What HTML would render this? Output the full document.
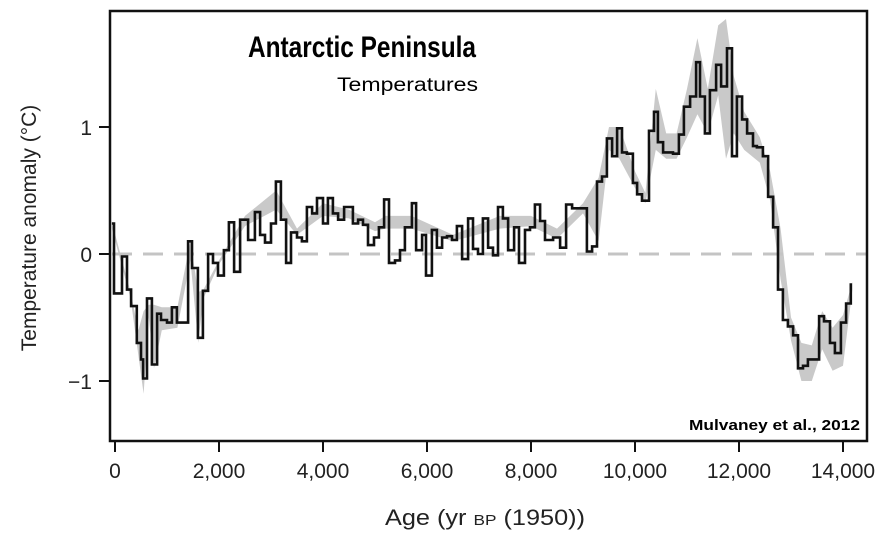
<!DOCTYPE html>
<html><head><meta charset="utf-8"><style>
html,body{margin:0;padding:0;background:#fff;}
svg{display:block;font-family:"Liberation Sans",Arial,sans-serif;}
</style></head><body>
<svg id="chart" width="888" height="542" viewBox="0 0 888 542">
<g id="band"></g>
<line x1="112" y1="254" x2="866" y2="254" stroke="#c4c4c4" stroke-width="3" stroke-dasharray="20,11"/>
<g id="series"></g>
<rect x="110" y="11" width="757" height="430" fill="none" stroke="#111" stroke-width="2.5"/>
<g id="xticks"></g>
<g id="yticks"></g>
<text x="248" y="57" font-size="30" font-weight="bold" fill="#000" textLength="228" lengthAdjust="spacingAndGlyphs">Antarctic Peninsula</text>
<text x="337" y="91" font-size="19" fill="#000" textLength="141" lengthAdjust="spacingAndGlyphs">Temperatures</text>
<text x="689" y="430" font-size="15" font-weight="bold" fill="#000" textLength="171" lengthAdjust="spacingAndGlyphs">Mulvaney et al., 2012</text>
<text transform="translate(36,228) rotate(-90)" text-anchor="middle" font-size="21" fill="#222">Temperature anomaly (°C)</text>
<text x="385" y="525" font-size="22" fill="#222" textLength="200" lengthAdjust="spacingAndGlyphs">Age (yr <tspan font-size="15">BP</tspan> (1950))</text>
</svg>
<script>
const stepAges=[-60,-20,135,230,310,420,500,540,615,710,810,885,1000,1095,1190,1405,1480,1595,1690,1790,1885,1980,2095,2190,2290,2405,2560,2690,2790,2885,3000,3095,3190,3290,3385,3500,3595,3690,3790,3885,4000,4095,4190,4290,4405,4575,4675,4770,4865,4980,5075,5175,5270,5385,5480,5575,5710,5790,5905,5980,6095,6190,6290,6385,6480,6575,6675,6790,6885,6980,7075,7175,7270,7365,7460,7560,7675,7770,7885,7980,8075,8175,8270,8425,8560,8675,8790,9075,9175,9270,9365,9460,9560,9655,9750,9845,9960,10040,10135,10270,10365,10440,10540,10635,10730,10845,10940,11060,11175,11250,11345,11440,11560,11655,11770,11865,11960,12060,12155,12270,12345,12460,12560,12655,12750,12845,12940,13040,13135,13230,13325,13540,13635,13750,13845,13960,14060,14150];
const stepValues=[0.24,-0.31,-0.02,-0.28,-0.41,-0.70,-0.83,-0.98,-0.35,-0.87,-0.47,-0.52,-0.54,-0.42,-0.54,0.10,-0.11,-0.66,-0.29,0.0,-0.07,-0.17,0.03,0.25,-0.14,0.27,0.11,0.33,0.15,0.09,0.24,0.57,0.27,-0.07,0.17,0.13,0.10,0.37,0.32,0.44,0.24,0.44,0.32,0.27,0.37,0.24,0.27,0.23,0.07,0.13,0.21,0.43,-0.07,-0.05,0.03,0.21,0.40,0.03,0.15,-0.17,0.19,0.05,0.13,0.14,0.11,0.22,-0.04,0.28,0.04,0.0,0.28,0.05,-0.01,0.37,0.28,0.03,0.21,-0.07,0.19,0.21,0.39,0.26,0.11,0.13,0.05,0.39,0.36,0.02,0.06,0.57,0.61,0.91,0.77,0.99,0.80,0.79,0.56,0.47,0.42,0.97,1.12,0.88,0.80,0.80,0.79,0.94,1.16,1.24,1.51,1.24,0.95,1.29,1.49,1.32,1.62,0.77,1.24,1.06,0.95,0.85,0.84,0.77,0.45,0.21,-0.28,-0.52,-0.57,-0.64,-0.90,-0.88,-0.83,-0.49,-0.53,-0.70,-0.78,-0.54,-0.39,-0.24];
const endAge=14175;
const bandAges=[-60,300,450,550,650,750,900,1200,1450,1600,1700,2000,2500,3100,3500,4000,4500,5000,5200,5700,6500,7400,8000,8500,9000,9300,9500,9700,10000,10200,10400,10600,10800,11000,11200,11400,11600,11750,11900,12100,12400,12600,12800,13000,13200,13400,13600,13800,14000,14180];
const bandUpper=[0.25,-0.3,-0.6,-0.45,-0.4,-0.4,-0.42,-0.42,0.1,-0.3,-0.28,-0.05,0.3,0.5,0.2,0.4,0.35,0.25,0.3,0.3,0.15,0.3,0.3,0.2,0.4,0.6,1.0,1.0,0.65,0.48,1.3,0.95,0.95,1.3,1.7,1.3,1.8,1.85,1.4,1.12,0.92,0.65,0.2,-0.5,-0.7,-0.72,-0.45,-0.58,-0.48,-0.22];
const bandLower=[0.2,-0.35,-0.8,-1.1,-0.5,-0.9,-0.6,-0.58,-0.05,-0.7,-0.35,-0.08,0.22,0.35,0.15,0.3,0.28,0.18,0.2,0.2,0.1,0.2,0.22,0.12,0.32,0.1,0.82,0.75,0.52,0.4,0.82,0.75,0.75,0.92,1.1,0.95,1.25,0.75,0.95,0.82,0.72,0.42,-0.2,-0.68,-1.0,-1.0,-0.75,-0.92,-0.88,-0.28];
const xTickValues=[0,2000,4000,6000,8000,10000,12000,14000];
const xTickLabels=["0","2,000","4,000","6,000","8,000","10,000","12,000","14,000"];
const yTickValues=[1,0,-1];
const yTickLabels=["1","0","\u22121"];

const NS="http://www.w3.org/2000/svg";
function xScale(a){return 115+a*0.052;}
function yScale(v){return 254-v*127;}
function mk(tag,attrs,parent){const e=document.createElementNS(NS,tag);for(const k in attrs)e.setAttribute(k,attrs[k]);parent.appendChild(e);return e;}

const bandG=document.getElementById('band');
let pts=[];
for(let i=0;i<bandAges.length;i++)pts.push(xScale(bandAges[i]).toFixed(1)+","+yScale(bandUpper[i]).toFixed(1));
for(let i=bandAges.length-1;i>=0;i--)pts.push(xScale(bandAges[i]).toFixed(1)+","+yScale(bandLower[i]).toFixed(1));
const band=mk('polygon',{points:pts.join(' '),fill:'#c9c9c9',stroke:'none'},bandG);



const serG=document.getElementById('series');
let d="";
for(let i=0;i<stepAges.length;i++){
  const x0=xScale(stepAges[i]),x1=xScale(i+1<stepAges.length?stepAges[i+1]:endAge),y=yScale(stepValues[i]);
  d+=(i===0?"M":"L")+x0.toFixed(1)+","+y.toFixed(1)+"L"+x1.toFixed(1)+","+y.toFixed(1);
}
const line=mk('path',{d:d,fill:'none',stroke:'#111',"stroke-width":2.6,"stroke-linejoin":"miter"},serG);



const xg=document.getElementById('xticks');
xTickValues.forEach((v,i)=>{
  const x=xScale(v);
  const t=mk('line',{x1:x,y1:441,x2:x,y2:452,stroke:'#111',"stroke-width":2},xg);
  
  
  const l=mk('text',{x:x,y:478,"text-anchor":"middle","font-size":21,fill:'#222'},xg);
  l.textContent=xTickLabels[i];
  
  
});
const yg=document.getElementById('yticks');
yTickValues.forEach((v,i)=>{
  const y=yScale(v);
  const t=mk('line',{x1:99,y1:y,x2:110,y2:y,stroke:'#111',"stroke-width":2},yg);
  
  
  const l=mk('text',{x:92,y:y+8,"text-anchor":"end","font-size":21,fill:'#222'},yg);
  l.textContent=yTickLabels[i];
  
  
});
</script>
</body></html>
